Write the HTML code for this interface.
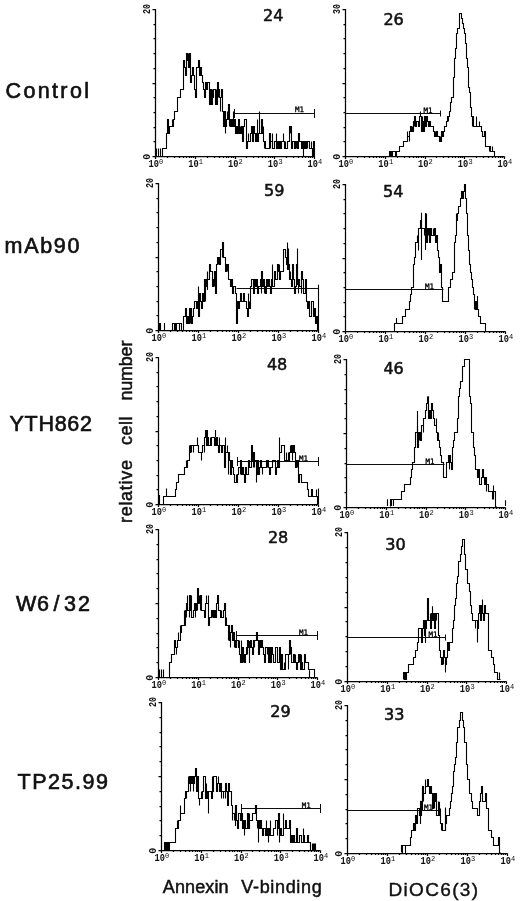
<!DOCTYPE html>
<html lang="en">
<head>
<meta charset="utf-8">
<title>Flow cytometry histograms</title>
<style>
html,body{margin:0;padding:0;background:#fff;}
body{width:520px;height:901px;overflow:hidden;}
svg{display:block;filter:blur(0.3px);}
text{font-family:"Liberation Sans","DejaVu Sans",sans-serif;fill:#111;}
.ax{fill:none;stroke:#000;stroke-width:1.25;}
.h{fill:none;stroke:#000;stroke-width:1.1;stroke-linejoin:miter;}
.m{fill:none;stroke:#000;stroke-width:0.95;}
.tk{font-family:"Liberation Mono","DejaVu Sans Mono",monospace;font-size:11px;font-weight:bold;fill:#111;}
.sup{font-family:"Liberation Mono","DejaVu Sans Mono",monospace;font-size:7px;fill:#111;}
.m1{font-family:"DejaVu Sans Mono","Liberation Mono",monospace;font-size:7.5px;fill:#000;stroke:#000;stroke-width:0.3;}
.num{font-family:"DejaVu Sans","Liberation Sans",sans-serif;font-size:15.6px;stroke:#111;stroke-width:0.55;}
.row{font-size:21.5px;stroke:#111;stroke-width:0.65;}
.ylab{font-size:18px;word-spacing:10px;stroke:#111;stroke-width:0.5;}
.xlab1{font-size:18px;word-spacing:12px;stroke:#111;stroke-width:0.5;}
.xlab2{font-size:19px;stroke:#111;stroke-width:0.4;}
</style>
</head>
<body>
<svg width="520" height="901" viewBox="0 0 520 901">
<rect width="520" height="901" fill="#fff"/>
<g id="p1">
<path class="ax" d="M152.5 9.5H155.5V156.5H314.5M152.5 156.5h3M153.5 141.5h2M153.5 127.5h2M153.5 112.5h2M153.5 97.5h2M152.5 83.5h3M153.5 68.5h2M153.5 53.5h2M153.5 38.5h2M153.5 24.5h2M152.5 9.5h3M155.5 156.5v2.5M167.5 156.5v1.5M174.5 156.5v1.5M179.5 156.5v1.5M183.5 156.5v1.5M186.5 156.5v1.5M189.5 156.5v1.5M191.5 156.5v1.5M193.5 156.5v1.5M195.5 156.5v2.5M207.5 156.5v1.5M214.5 156.5v1.5M219.5 156.5v1.5M223.5 156.5v1.5M226.5 156.5v1.5M228.5 156.5v1.5M231.5 156.5v1.5M233.5 156.5v1.5M235.5 156.5v2.5M246.5 156.5v1.5M253.5 156.5v1.5M258.5 156.5v1.5M262.5 156.5v1.5M265.5 156.5v1.5M268.5 156.5v1.5M270.5 156.5v1.5M272.5 156.5v1.5M274.5 156.5v2.5M286.5 156.5v1.5M293.5 156.5v1.5M298.5 156.5v1.5M302.5 156.5v1.5M305.5 156.5v1.5M308.5 156.5v1.5M310.5 156.5v1.5M312.5 156.5v1.5M314.5 156.5v2.5"/>
<text class="tk" x="148.5" y="167.3" textLength="10.4" lengthAdjust="spacingAndGlyphs">10</text><text class="sup" x="159.1" y="164.1">0</text>
<text class="tk" x="188.2" y="167.3" textLength="10.4" lengthAdjust="spacingAndGlyphs">10</text><text class="sup" x="198.8" y="164.1">1</text>
<text class="tk" x="228" y="167.3" textLength="10.4" lengthAdjust="spacingAndGlyphs">10</text><text class="sup" x="238.6" y="164.1">2</text>
<text class="tk" x="267.8" y="167.3" textLength="10.4" lengthAdjust="spacingAndGlyphs">10</text><text class="sup" x="278.4" y="164.1">3</text>
<text class="tk" x="307.5" y="167.3" textLength="10.4" lengthAdjust="spacingAndGlyphs">10</text><text class="sup" x="318.1" y="164.1">4</text>
<text class="tk" transform="translate(150.3 159.7) rotate(-90)" textLength="6" lengthAdjust="spacingAndGlyphs">0</text>
<text class="tk" transform="translate(150.3 14.1) rotate(-90)" textLength="10" lengthAdjust="spacingAndGlyphs">20</text>
<path class="h" d="M162.5 156.5V148.5H163.5H164.5H164.5H165.5H166.5H166.5V133.5H167.5V119.5H168.5V126.5H168.5V133.5H169.5V126.5H170.5H170.5H171.5H172.5V119.5H172.5V126.5H173.5V119.5H173.5H174.5V111.5H175.5H175.5H176.5H177.5H177.5V97.5H178.5H179.5H179.5H180.5V89.5H181.5H181.5H182.5H183.5V67.5H183.5V60.5H184.5V67.5H185.5V75.5H185.5H186.5V60.5H186.5V53.5H187.5V60.5H188.5V53.5H188.5V67.5H189.5V53.5H190.5V67.5H190.5V82.5H191.5V75.5H192.5V67.5H192.5H193.5V75.5H194.5V89.5H194.5H195.5V97.5H196.5V82.5H196.5V67.5H197.5H198.5H198.5V60.5H199.5H199.5V75.5H200.5V67.5H201.5H201.5V75.5H202.5V82.5H203.5H203.5V89.5H204.5V97.5H205.5H205.5V82.5H206.5V89.5H207.5H207.5V82.5H208.5H209.5V89.5H209.5V104.5H210.5V89.5H211.5V104.5H211.5H212.5V89.5H212.5V97.5H213.5V89.5H214.5H214.5H215.5V104.5H216.5V89.5H216.5V104.5H217.5V82.5H218.5V97.5H218.5V89.5H219.5V97.5H220.5V111.5H220.5V97.5H221.5V89.5H222.5V111.5H222.5H223.5V126.5H224.5H224.5V111.5H225.5V133.5H225.5V126.5H226.5V119.5H227.5V111.5H227.5V119.5H228.5V104.5H229.5V126.5H229.5V119.5H230.5V126.5H231.5H231.5V119.5H232.5V126.5H233.5V111.5H233.5V126.5H234.5V119.5H235.5H235.5V133.5H236.5V126.5H237.5H237.5V133.5H238.5H238.5V119.5H239.5V133.5H240.5V126.5H240.5V133.5H241.5V126.5H242.5H242.5V141.5H243.5V126.5H244.5V119.5H244.5H245.5H246.5V133.5H246.5V148.5H247.5V141.5H248.5V133.5H248.5V141.5H249.5H250.5V133.5H250.5H251.5H251.5V126.5H252.5V141.5H253.5V126.5H253.5H254.5V133.5H255.5H255.5V141.5H256.5V133.5H257.5V119.5H257.5V141.5H258.5V133.5H259.5V111.5H259.5V133.5H260.5H261.5V126.5H261.5V119.5H262.5V133.5H263.5V126.5H263.5V141.5H264.5V148.5H264.5V141.5H265.5V148.5H266.5H266.5H267.5H268.5H268.5H269.5V133.5H270.5V148.5H270.5V141.5H271.5H272.5V133.5H272.5V148.5H273.5H274.5H274.5V141.5H275.5H276.5V133.5H276.5V148.5H277.5V141.5H277.5H278.5V148.5H279.5V141.5H279.5H280.5V148.5H281.5V141.5H281.5H282.5H283.5V133.5H283.5V141.5H284.5V148.5H285.5V141.5H285.5V148.5H286.5H287.5H287.5V141.5H288.5H289.5V133.5H289.5V126.5H290.5V133.5H290.5V126.5H291.5V148.5H292.5H292.5V141.5H293.5H294.5V148.5H294.5H295.5V141.5H296.5V148.5H296.5V141.5H297.5V148.5H298.5H298.5V133.5H299.5V141.5H300.5H300.5H301.5V148.5H302.5V141.5H302.5H303.5V148.5H303.5H304.5V141.5H305.5H305.5V148.5H306.5V141.5H307.5V148.5H307.5V141.5H308.5H309.5V148.5H309.5H310.5H311.5V141.5H311.5V148.5H312.5H313.5H313.5V141.5H314.5V156.5H314.5V156.5"/>
<path class="h" d="M156.5 156V148.5M158.5 156V148.5M160.5 156V148.5M303.5 156V148.5M312.5 156V148.5M313.5 156V148.5"/>
<path class="m" d="M234.5 113.5H314.5M234.5 109v9M314.5 109v9"/>
<text class="m1" x="295" y="112.4">M1</text>
<text class="num" x="263" y="21.4" textLength="20.4" lengthAdjust="spacingAndGlyphs">24</text>
</g>
<g id="p2">
<path class="ax" d="M342.5 9.5H345.5V156.5H504.5M342.5 156.5h3M343.5 141.5h2M343.5 127.5h2M343.5 112.5h2M343.5 97.5h2M342.5 83.5h3M343.5 68.5h2M343.5 53.5h2M343.5 38.5h2M343.5 24.5h2M342.5 9.5h3M345.5 156.5v2.5M357.5 156.5v1.5M364.5 156.5v1.5M369.5 156.5v1.5M373.5 156.5v1.5M376.5 156.5v1.5M379.5 156.5v1.5M381.5 156.5v1.5M383.5 156.5v1.5M385.5 156.5v2.5M397.5 156.5v1.5M404.5 156.5v1.5M409.5 156.5v1.5M413.5 156.5v1.5M416.5 156.5v1.5M418.5 156.5v1.5M421.5 156.5v1.5M423.5 156.5v1.5M425.5 156.5v2.5M436.5 156.5v1.5M443.5 156.5v1.5M448.5 156.5v1.5M452.5 156.5v1.5M455.5 156.5v1.5M458.5 156.5v1.5M460.5 156.5v1.5M462.5 156.5v1.5M464.5 156.5v2.5M476.5 156.5v1.5M483.5 156.5v1.5M488.5 156.5v1.5M492.5 156.5v1.5M495.5 156.5v1.5M498.5 156.5v1.5M500.5 156.5v1.5M502.5 156.5v1.5M504.5 156.5v2.5"/>
<text class="tk" x="338.5" y="167.3" textLength="10.4" lengthAdjust="spacingAndGlyphs">10</text><text class="sup" x="349.1" y="164.1">0</text>
<text class="tk" x="378.2" y="167.3" textLength="10.4" lengthAdjust="spacingAndGlyphs">10</text><text class="sup" x="388.9" y="164.1">1</text>
<text class="tk" x="418" y="167.3" textLength="10.4" lengthAdjust="spacingAndGlyphs">10</text><text class="sup" x="428.6" y="164.1">2</text>
<text class="tk" x="457.8" y="167.3" textLength="10.4" lengthAdjust="spacingAndGlyphs">10</text><text class="sup" x="468.4" y="164.1">3</text>
<text class="tk" x="497.5" y="167.3" textLength="10.4" lengthAdjust="spacingAndGlyphs">10</text><text class="sup" x="508.1" y="164.1">4</text>
<text class="tk" transform="translate(340.3 159.7) rotate(-90)" textLength="6" lengthAdjust="spacingAndGlyphs">0</text>
<text class="tk" transform="translate(340.3 14.1) rotate(-90)" textLength="10" lengthAdjust="spacingAndGlyphs">30</text>
<path class="h" d="M388.5 156.5V156.5H388.5H389.5H390.5H390.5V151.5H391.5V156.5H392.5H392.5V151.5H393.5H394.5H394.5H395.5V156.5H396.5H396.5V151.5H397.5H398.5H398.5H399.5V146.5H399.5H400.5H401.5H401.5H402.5H403.5H403.5V141.5H404.5H405.5H405.5H406.5H407.5V131.5H407.5V136.5H408.5H409.5V141.5H409.5V131.5H410.5V126.5H411.5H411.5V131.5H412.5V126.5H412.5V131.5H413.5V121.5H414.5V126.5H414.5V116.5H415.5V126.5H416.5V121.5H416.5H417.5H418.5H418.5V126.5H419.5V116.5H420.5V111.5H420.5V116.5H421.5V131.5H422.5V116.5H422.5V121.5H423.5V131.5H424.5H424.5V116.5H425.5H425.5V126.5H426.5V116.5H427.5V121.5H427.5H428.5V126.5H429.5V121.5H429.5H430.5V126.5H431.5H431.5H432.5H433.5V131.5H433.5H434.5V136.5H435.5V131.5H435.5V136.5H436.5V131.5H437.5V136.5H437.5H438.5H438.5H439.5V141.5H440.5V136.5H440.5V141.5H441.5V131.5H442.5V136.5H442.5H443.5V131.5H444.5H444.5V126.5H445.5H446.5V121.5H446.5H447.5V116.5H448.5V121.5H448.5V116.5H449.5V111.5H450.5V107.5H450.5V102.5H451.5H451.5V97.5H452.5H453.5V92.5H453.5V77.5H454.5V58.5H455.5V53.5H455.5V48.5H456.5V33.5H457.5H457.5V28.5H458.5H459.5V23.5H459.5V13.5H460.5H461.5V18.5H461.5H462.5V23.5H463.5H463.5V28.5H464.5H464.5V33.5H465.5V43.5H466.5V48.5H466.5V58.5H467.5V67.5H468.5V77.5H468.5V87.5H469.5V92.5H470.5V102.5H470.5V107.5H471.5V116.5H472.5V126.5H472.5V116.5H473.5V126.5H474.5H474.5H475.5H476.5V116.5H476.5V126.5H477.5H477.5H478.5H479.5V121.5H479.5V126.5H480.5H481.5V131.5H481.5H482.5V136.5H483.5H483.5H484.5V131.5H485.5V141.5H485.5V146.5H486.5H487.5H487.5H488.5H489.5V151.5H489.5V146.5H490.5V151.5H490.5H491.5H492.5V146.5H492.5V151.5H493.5H494.5H494.5V156.5"/>
<path class="h" d="M389.5 156V151M391.5 156V151"/>
<path class="m" d="M345.5 113.5H440.5M440.5 110.5v6"/>
<text class="m1" x="423.5" y="112.6">M1</text>
<text class="num" x="383.4" y="24.6" textLength="20.4" lengthAdjust="spacingAndGlyphs">26</text>
</g>
<g id="p3">
<path class="ax" d="M155.5 183.5H158.5V330.5H318.5M155.5 330.5h3M156.5 315.5h2M156.5 301.5h2M156.5 286.5h2M156.5 271.5h2M155.5 257.5h3M156.5 242.5h2M156.5 227.5h2M156.5 212.5h2M156.5 198.5h2M155.5 183.5h3M158.5 330.5v2.5M170.5 330.5v1.5M177.5 330.5v1.5M182.5 330.5v1.5M186.5 330.5v1.5M189.5 330.5v1.5M192.5 330.5v1.5M194.5 330.5v1.5M196.5 330.5v1.5M198.5 330.5v2.5M210.5 330.5v1.5M217.5 330.5v1.5M222.5 330.5v1.5M226.5 330.5v1.5M229.5 330.5v1.5M232.5 330.5v1.5M234.5 330.5v1.5M236.5 330.5v1.5M238.5 330.5v2.5M250.5 330.5v1.5M257.5 330.5v1.5M262.5 330.5v1.5M266.5 330.5v1.5M269.5 330.5v1.5M272.5 330.5v1.5M274.5 330.5v1.5M276.5 330.5v1.5M278.5 330.5v2.5M290.5 330.5v1.5M297.5 330.5v1.5M302.5 330.5v1.5M306.5 330.5v1.5M309.5 330.5v1.5M312.5 330.5v1.5M314.5 330.5v1.5M316.5 330.5v1.5M318.5 330.5v2.5"/>
<text class="tk" x="151.5" y="341.3" textLength="10.4" lengthAdjust="spacingAndGlyphs">10</text><text class="sup" x="162.1" y="338.1">0</text>
<text class="tk" x="191.5" y="341.3" textLength="10.4" lengthAdjust="spacingAndGlyphs">10</text><text class="sup" x="202.1" y="338.1">1</text>
<text class="tk" x="231.5" y="341.3" textLength="10.4" lengthAdjust="spacingAndGlyphs">10</text><text class="sup" x="242.1" y="338.1">2</text>
<text class="tk" x="271.5" y="341.3" textLength="10.4" lengthAdjust="spacingAndGlyphs">10</text><text class="sup" x="282.1" y="338.1">3</text>
<text class="tk" x="311.5" y="341.3" textLength="10.4" lengthAdjust="spacingAndGlyphs">10</text><text class="sup" x="322.1" y="338.1">4</text>
<text class="tk" transform="translate(153.3 333.7) rotate(-90)" textLength="6" lengthAdjust="spacingAndGlyphs">0</text>
<text class="tk" transform="translate(153.3 188.1) rotate(-90)" textLength="10" lengthAdjust="spacingAndGlyphs">20</text>
<path class="h" d="M172.5 330.5V323.5H173.5H173.5H174.5H175.5H175.5H176.5H177.5H177.5H178.5H179.5H179.5H180.5H181.5H181.5V330.5H182.5H183.5V323.5H183.5V316.5H184.5H184.5H185.5V308.5H186.5V316.5H186.5V323.5H187.5V316.5H188.5V323.5H188.5H189.5V308.5H190.5V323.5H190.5V308.5H191.5V323.5H192.5V316.5H192.5H193.5V308.5H194.5H194.5V301.5H195.5H196.5V308.5H196.5H197.5H197.5V301.5H198.5V316.5H199.5V308.5H199.5V293.5H200.5V301.5H201.5V308.5H201.5H202.5V293.5H203.5H203.5V301.5H204.5V279.5H205.5V301.5H205.5V286.5H206.5V279.5H207.5V271.5H207.5V279.5H208.5H209.5V271.5H209.5V264.5H210.5H210.5V271.5H211.5H212.5V286.5H212.5H213.5V279.5H214.5V286.5H214.5V271.5H215.5V293.5H216.5V264.5H216.5H217.5V257.5H218.5V264.5H218.5V257.5H219.5V264.5H220.5H220.5V249.5H221.5H222.5V257.5H222.5V242.5H223.5H223.5V257.5H224.5H225.5V264.5H225.5V271.5H226.5V264.5H227.5V271.5H227.5V264.5H228.5V279.5H229.5H229.5H230.5V286.5H231.5H231.5V279.5H232.5V293.5H233.5H233.5V286.5H234.5H235.5H235.5V293.5H236.5H236.5V323.5H237.5V301.5H238.5H238.5V308.5H239.5V301.5H240.5H240.5V293.5H241.5V301.5H242.5H242.5H243.5V293.5H244.5V301.5H244.5H245.5H246.5H246.5V308.5H247.5V316.5H248.5V293.5H248.5V308.5H249.5V301.5H249.5V308.5H250.5V286.5H251.5V279.5H251.5H252.5H253.5V286.5H253.5V293.5H254.5V279.5H255.5H255.5V286.5H256.5V279.5H257.5V286.5H257.5V293.5H258.5V286.5H259.5H259.5H260.5V279.5H261.5V293.5H261.5V271.5H262.5V286.5H262.5H263.5V279.5H264.5V293.5H264.5V286.5H265.5V293.5H266.5V286.5H266.5V279.5H267.5V286.5H268.5H268.5V279.5H269.5V286.5H270.5H270.5V293.5H271.5V279.5H272.5V264.5H272.5V286.5H273.5H274.5H274.5V271.5H275.5V279.5H275.5H276.5H277.5V271.5H277.5V264.5H278.5V271.5H279.5V264.5H279.5V279.5H280.5V271.5H281.5H281.5H282.5H283.5V257.5H283.5V249.5H284.5H285.5V257.5H285.5H286.5V264.5H287.5V242.5H287.5V257.5H288.5H288.5V264.5H289.5V279.5H290.5V271.5H290.5V279.5H291.5V286.5H292.5V279.5H292.5V264.5H293.5V279.5H294.5V286.5H294.5V293.5H295.5V286.5H296.5V271.5H296.5V264.5H297.5V279.5H298.5V293.5H298.5V279.5H299.5V286.5H300.5H300.5H301.5V293.5H301.5V271.5H302.5V279.5H303.5H303.5V293.5H304.5H305.5V279.5H305.5H306.5V301.5H307.5V308.5H307.5H308.5V301.5H309.5V308.5H309.5V316.5H310.5H311.5V301.5H311.5H312.5H313.5H313.5V316.5H314.5V308.5H314.5H315.5V323.5H316.5H316.5V316.5H317.5H317.5V330.5"/>
<path class="h" d="M159.5 331V323M160.5 331V323M164.5 331V323M174.5 331V323M175.5 331V323M176.5 331V323M179.5 331V323M198.5 302V286.5M207.5 290V272M287.5 270V248.6M288.5 270V248.6M297.5 285V248.6"/>
<path class="h" d="M318.5 284.6V330.8"/>
<path class="m" d="M236.5 288.5H318.5"/>
<text class="num" x="264" y="195.9" textLength="20.4" lengthAdjust="spacingAndGlyphs">59</text>
</g>
<g id="p4">
<path class="ax" d="M342.5 184.5H345.5V331.5H505.5M342.5 331.5h3M343.5 316.5h2M343.5 302.5h2M343.5 287.5h2M343.5 272.5h2M342.5 258.5h3M343.5 243.5h2M343.5 228.5h2M343.5 213.5h2M343.5 199.5h2M342.5 184.5h3M345.5 331.5v2.5M357.5 331.5v1.5M364.5 331.5v1.5M369.5 331.5v1.5M373.5 331.5v1.5M376.5 331.5v1.5M379.5 331.5v1.5M381.5 331.5v1.5M383.5 331.5v1.5M385.5 331.5v2.5M397.5 331.5v1.5M404.5 331.5v1.5M409.5 331.5v1.5M413.5 331.5v1.5M416.5 331.5v1.5M419.5 331.5v1.5M421.5 331.5v1.5M423.5 331.5v1.5M425.5 331.5v2.5M437.5 331.5v1.5M444.5 331.5v1.5M449.5 331.5v1.5M453.5 331.5v1.5M456.5 331.5v1.5M459.5 331.5v1.5M461.5 331.5v1.5M463.5 331.5v1.5M465.5 331.5v2.5M477.5 331.5v1.5M484.5 331.5v1.5M489.5 331.5v1.5M493.5 331.5v1.5M496.5 331.5v1.5M499.5 331.5v1.5M501.5 331.5v1.5M503.5 331.5v1.5M505.5 331.5v2.5"/>
<text class="tk" x="338.5" y="342.3" textLength="10.4" lengthAdjust="spacingAndGlyphs">10</text><text class="sup" x="349.1" y="339.1">0</text>
<text class="tk" x="378.5" y="342.3" textLength="10.4" lengthAdjust="spacingAndGlyphs">10</text><text class="sup" x="389.1" y="339.1">1</text>
<text class="tk" x="418.5" y="342.3" textLength="10.4" lengthAdjust="spacingAndGlyphs">10</text><text class="sup" x="429.1" y="339.1">2</text>
<text class="tk" x="458.5" y="342.3" textLength="10.4" lengthAdjust="spacingAndGlyphs">10</text><text class="sup" x="469.1" y="339.1">3</text>
<text class="tk" x="498.5" y="342.3" textLength="10.4" lengthAdjust="spacingAndGlyphs">10</text><text class="sup" x="509.1" y="339.1">4</text>
<text class="tk" transform="translate(340.3 334.7) rotate(-90)" textLength="6" lengthAdjust="spacingAndGlyphs">0</text>
<text class="tk" transform="translate(340.3 189.1) rotate(-90)" textLength="10" lengthAdjust="spacingAndGlyphs">20</text>
<path class="h" d="M394.5 331.5V323.5H394.5H395.5H396.5H396.5H397.5H398.5H398.5H399.5H400.5H400.5H401.5H402.5H402.5V316.5H403.5H404.5H404.5H405.5V309.5H405.5H406.5H407.5H407.5H408.5H409.5V301.5H409.5H410.5V294.5H411.5H411.5V287.5H412.5H413.5V272.5H413.5V264.5H414.5V257.5H415.5V242.5H415.5H416.5H417.5V235.5H417.5V242.5H418.5V250.5H418.5V228.5H419.5H420.5V220.5H420.5H421.5V228.5H422.5H422.5H423.5H424.5V235.5H424.5V228.5H425.5V235.5H426.5V213.5H426.5V242.5H427.5V228.5H428.5V235.5H428.5V228.5H429.5V242.5H430.5V228.5H430.5H431.5V235.5H431.5H432.5H433.5V228.5H433.5V235.5H434.5V228.5H435.5V235.5H435.5V242.5H436.5V235.5H437.5V242.5H437.5V250.5H438.5V257.5H439.5V272.5H439.5H440.5V264.5H441.5V279.5H441.5V287.5H442.5V301.5H443.5H443.5H444.5H444.5H445.5H446.5H446.5H447.5H448.5V294.5H448.5V287.5H449.5H450.5V279.5H450.5H451.5H452.5H452.5V272.5H453.5H454.5V257.5H454.5V242.5H455.5V235.5H456.5V213.5H456.5V220.5H457.5V213.5H457.5H458.5V206.5H459.5H459.5H460.5V198.5H461.5H461.5V191.5H462.5V198.5H463.5H463.5V191.5H464.5V184.5H465.5V191.5H465.5V198.5H466.5V213.5H467.5V228.5H467.5V235.5H468.5V250.5H469.5V257.5H469.5V264.5H470.5V272.5H470.5H471.5V279.5H472.5H472.5V287.5H473.5V294.5H474.5V309.5H474.5V301.5H475.5V309.5H476.5V301.5H476.5H477.5V309.5H478.5V316.5H478.5H479.5H480.5V323.5H480.5H481.5H482.5H482.5H483.5H483.5H484.5H485.5H485.5V331.5H486.5V331.5"/>
<path class="h" d="M396.5 324V318M421.5 260V212.7M425.5 250V213M477.5 310V296"/>
<path class="m" d="M345.5 289.5H443.5"/>
<text class="m1" x="425" y="288.8">M1</text>
<text class="num" x="383" y="197.2" textLength="20.4" lengthAdjust="spacingAndGlyphs">54</text>
</g>
<g id="p5">
<path class="ax" d="M155.5 357.5H158.5V504.5H318.5M155.5 504.5h3M156.5 489.5h2M156.5 475.5h2M156.5 460.5h2M156.5 445.5h2M155.5 431.5h3M156.5 416.5h2M156.5 401.5h2M156.5 386.5h2M156.5 372.5h2M155.5 357.5h3M158.5 504.5v2.5M170.5 504.5v1.5M177.5 504.5v1.5M182.5 504.5v1.5M186.5 504.5v1.5M189.5 504.5v1.5M192.5 504.5v1.5M194.5 504.5v1.5M196.5 504.5v1.5M198.5 504.5v2.5M210.5 504.5v1.5M217.5 504.5v1.5M222.5 504.5v1.5M226.5 504.5v1.5M229.5 504.5v1.5M232.5 504.5v1.5M234.5 504.5v1.5M236.5 504.5v1.5M238.5 504.5v2.5M250.5 504.5v1.5M257.5 504.5v1.5M262.5 504.5v1.5M266.5 504.5v1.5M269.5 504.5v1.5M272.5 504.5v1.5M274.5 504.5v1.5M276.5 504.5v1.5M278.5 504.5v2.5M290.5 504.5v1.5M297.5 504.5v1.5M302.5 504.5v1.5M306.5 504.5v1.5M309.5 504.5v1.5M312.5 504.5v1.5M314.5 504.5v1.5M316.5 504.5v1.5M318.5 504.5v2.5"/>
<text class="tk" x="151.5" y="515.3" textLength="10.4" lengthAdjust="spacingAndGlyphs">10</text><text class="sup" x="162.1" y="512.1">0</text>
<text class="tk" x="191.5" y="515.3" textLength="10.4" lengthAdjust="spacingAndGlyphs">10</text><text class="sup" x="202.1" y="512.1">1</text>
<text class="tk" x="231.5" y="515.3" textLength="10.4" lengthAdjust="spacingAndGlyphs">10</text><text class="sup" x="242.1" y="512.1">2</text>
<text class="tk" x="271.5" y="515.3" textLength="10.4" lengthAdjust="spacingAndGlyphs">10</text><text class="sup" x="282.1" y="512.1">3</text>
<text class="tk" x="311.5" y="515.3" textLength="10.4" lengthAdjust="spacingAndGlyphs">10</text><text class="sup" x="322.1" y="512.1">4</text>
<text class="tk" transform="translate(153.3 507.7) rotate(-90)" textLength="6" lengthAdjust="spacingAndGlyphs">0</text>
<text class="tk" transform="translate(153.3 362.1) rotate(-90)" textLength="10" lengthAdjust="spacingAndGlyphs">20</text>
<path class="h" d="M163.5 504.5V496.5H163.5H164.5H165.5H165.5H166.5H167.5H167.5H168.5H169.5H169.5H170.5H171.5H171.5H172.5H173.5H173.5H174.5H175.5H175.5V489.5H176.5V482.5H176.5H177.5H178.5H178.5V474.5H179.5H180.5H180.5H181.5H182.5H182.5H183.5H184.5H184.5V467.5H185.5H186.5V460.5H186.5V467.5H187.5V460.5H188.5H188.5H189.5V445.5H189.5V452.5H190.5V445.5H191.5V452.5H191.5V445.5H192.5H193.5V452.5H193.5V445.5H194.5H195.5H195.5H196.5H197.5V437.5H197.5V445.5H198.5V452.5H199.5H199.5H200.5H201.5V460.5H201.5V452.5H202.5H202.5V445.5H203.5H204.5V452.5H204.5V437.5H205.5V430.5H206.5V437.5H206.5V445.5H207.5V437.5H208.5V445.5H208.5H209.5H210.5V437.5H210.5V445.5H211.5V437.5H212.5H212.5H213.5H214.5V445.5H214.5H215.5V437.5H215.5V445.5H216.5V437.5H217.5V445.5H217.5H218.5V452.5H219.5V437.5H219.5V445.5H220.5H221.5V452.5H221.5H222.5V445.5H223.5H223.5H224.5V467.5H225.5V437.5H225.5V452.5H226.5H227.5V445.5H227.5V452.5H228.5V474.5H228.5V452.5H229.5V460.5H230.5H230.5V474.5H231.5V460.5H232.5V467.5H232.5H233.5V474.5H234.5H234.5V482.5H235.5H236.5V474.5H236.5V482.5H237.5V474.5H238.5V467.5H238.5H239.5H240.5V474.5H240.5V460.5H241.5V474.5H241.5H242.5V467.5H243.5V474.5H243.5H244.5V482.5H245.5V474.5H245.5V467.5H246.5V474.5H247.5H247.5H248.5V460.5H249.5V467.5H249.5H250.5H251.5V452.5H251.5V445.5H252.5V460.5H253.5V467.5H253.5V452.5H254.5V467.5H254.5V460.5H255.5H256.5V482.5H256.5V474.5H257.5V460.5H258.5H258.5V474.5H259.5V467.5H260.5H260.5V460.5H261.5V467.5H262.5V474.5H262.5V467.5H263.5H264.5H264.5H265.5H266.5H266.5V460.5H267.5V467.5H267.5V460.5H268.5V467.5H269.5H269.5V474.5H270.5V467.5H271.5H271.5H272.5V460.5H273.5H273.5H274.5H275.5H275.5V474.5H276.5V467.5H277.5V460.5H277.5H278.5V467.5H279.5V437.5H279.5V452.5H280.5H280.5H281.5V445.5H282.5H282.5H283.5H284.5V452.5H284.5V460.5H285.5H286.5V452.5H286.5V460.5H287.5H288.5V452.5H288.5V460.5H289.5V452.5H290.5V445.5H290.5V452.5H291.5V445.5H292.5V460.5H292.5V452.5H293.5V445.5H293.5H294.5V452.5H295.5V460.5H295.5V467.5H296.5V460.5H297.5V467.5H297.5V460.5H298.5V482.5H299.5H299.5V474.5H300.5H301.5H301.5V482.5H302.5H303.5H303.5H304.5H305.5H305.5H306.5H306.5H307.5V489.5H308.5H308.5V496.5H309.5H310.5H310.5H311.5V489.5H312.5V496.5H312.5H313.5H314.5H314.5H315.5H316.5V489.5H316.5V496.5H317.5H317.5V504.5"/>
<path class="h" d="M159.5 504V495M166.5 496V488.5M207.5 437V430M215.5 437V430"/>
<path class="h" d="M318.5 488.5V504.1"/>
<path class="m" d="M237.5 461.5H318.5M237.5 457v9M318.5 457v9"/>
<text class="m1" x="299" y="460.8">M1</text>
<text class="num" x="266.9" y="370.4" textLength="20.4" lengthAdjust="spacingAndGlyphs">48</text>
</g>
<g id="p6">
<path class="ax" d="M343.5 359.5H346.5V507.5H505.5M343.5 507.5h3M344.5 492.5h2M344.5 477.5h2M344.5 463.5h2M344.5 448.5h2M343.5 433.5h3M344.5 418.5h2M344.5 403.5h2M344.5 389.5h2M344.5 374.5h2M343.5 359.5h3M346.5 507.5v2.5M358.5 507.5v1.5M365.5 507.5v1.5M370.5 507.5v1.5M374.5 507.5v1.5M377.5 507.5v1.5M380.5 507.5v1.5M382.5 507.5v1.5M384.5 507.5v1.5M386.5 507.5v2.5M398.5 507.5v1.5M405.5 507.5v1.5M410.5 507.5v1.5M414.5 507.5v1.5M417.5 507.5v1.5M419.5 507.5v1.5M422.5 507.5v1.5M424.5 507.5v1.5M426.5 507.5v2.5M437.5 507.5v1.5M444.5 507.5v1.5M449.5 507.5v1.5M453.5 507.5v1.5M456.5 507.5v1.5M459.5 507.5v1.5M461.5 507.5v1.5M463.5 507.5v1.5M465.5 507.5v2.5M477.5 507.5v1.5M484.5 507.5v1.5M489.5 507.5v1.5M493.5 507.5v1.5M496.5 507.5v1.5M499.5 507.5v1.5M501.5 507.5v1.5M503.5 507.5v1.5M505.5 507.5v2.5"/>
<text class="tk" x="339.5" y="518.3" textLength="10.4" lengthAdjust="spacingAndGlyphs">10</text><text class="sup" x="350.1" y="515.1">0</text>
<text class="tk" x="379.2" y="518.3" textLength="10.4" lengthAdjust="spacingAndGlyphs">10</text><text class="sup" x="389.9" y="515.1">1</text>
<text class="tk" x="419" y="518.3" textLength="10.4" lengthAdjust="spacingAndGlyphs">10</text><text class="sup" x="429.6" y="515.1">2</text>
<text class="tk" x="458.8" y="518.3" textLength="10.4" lengthAdjust="spacingAndGlyphs">10</text><text class="sup" x="469.4" y="515.1">3</text>
<text class="tk" x="498.5" y="518.3" textLength="10.4" lengthAdjust="spacingAndGlyphs">10</text><text class="sup" x="509.1" y="515.1">4</text>
<text class="tk" transform="translate(341.3 510.7) rotate(-90)" textLength="6" lengthAdjust="spacingAndGlyphs">0</text>
<text class="tk" transform="translate(341.3 364.1) rotate(-90)" textLength="10" lengthAdjust="spacingAndGlyphs">20</text>
<path class="h" d="M390.5 506.5V499.5H390.5H391.5H391.5H392.5H393.5H393.5H394.5H395.5H395.5H396.5H397.5H397.5H398.5H399.5H399.5H400.5H401.5H401.5V491.5H402.5H402.5H403.5H404.5V484.5H404.5H405.5H406.5H406.5H407.5H408.5H408.5H409.5H410.5H410.5V477.5H411.5V469.5H412.5V462.5H412.5H413.5H414.5V447.5H414.5H415.5V432.5H415.5H416.5H417.5V425.5H417.5V447.5H418.5V432.5H419.5V440.5H419.5V432.5H420.5V440.5H421.5V432.5H421.5V425.5H422.5H423.5V432.5H423.5V418.5H424.5H425.5V410.5H425.5H426.5V403.5H427.5V396.5H427.5V403.5H428.5V410.5H428.5V418.5H429.5V410.5H430.5H430.5V418.5H431.5V403.5H432.5V410.5H432.5H433.5V418.5H434.5H434.5V425.5H435.5H436.5V418.5H436.5V432.5H437.5V440.5H438.5V432.5H438.5V440.5H439.5V447.5H440.5H440.5V455.5H441.5H441.5V462.5H442.5H443.5V477.5H443.5H444.5H445.5H445.5H446.5V462.5H447.5H447.5H448.5V455.5H449.5V469.5H449.5V455.5H450.5V462.5H451.5V469.5H451.5H452.5V447.5H453.5V440.5H453.5H454.5H454.5V432.5H455.5H456.5H456.5H457.5V418.5H458.5H458.5V396.5H459.5V388.5H460.5H460.5V381.5H461.5H462.5V374.5H462.5V366.5H463.5H464.5V359.5H464.5H465.5H466.5H466.5H467.5H467.5H468.5H469.5V388.5H469.5V396.5H470.5V403.5H471.5V432.5H471.5H472.5H473.5V440.5H473.5V447.5H474.5V455.5H475.5V469.5H475.5H476.5H477.5V477.5H477.5H478.5V469.5H479.5V484.5H479.5H480.5H480.5H481.5V477.5H482.5H482.5V469.5H483.5V477.5H484.5V484.5H484.5H485.5V477.5H486.5V491.5H486.5V484.5H487.5H488.5V491.5H488.5H489.5H490.5H490.5H491.5H492.5V499.5H492.5V491.5H493.5V499.5H493.5V491.5H494.5H495.5V499.5H495.5V506.5H496.5H496.5V506.5"/>
<path class="h" d="M387.5 506V499.2M391.5 506V499.2M393.5 506V499.2M417.5 440V410.9M428.5 410V396.3M493.5 495V485.6M505.5 506V500.2"/>
<path class="m" d="M346.5 464.5H444.5"/>
<text class="m1" x="425.5" y="463.8">M1</text>
<text class="num" x="383.4" y="374.2" textLength="20.4" lengthAdjust="spacingAndGlyphs">46</text>
</g>
<g id="p7">
<path class="ax" d="M155.5 529.5H158.5V677.5H317.5M155.5 677.5h3M156.5 662.5h2M156.5 647.5h2M156.5 633.5h2M156.5 618.5h2M155.5 603.5h3M156.5 588.5h2M156.5 573.5h2M156.5 559.5h2M156.5 544.5h2M155.5 529.5h3M158.5 677.5v2.5M170.5 677.5v1.5M177.5 677.5v1.5M182.5 677.5v1.5M186.5 677.5v1.5M189.5 677.5v1.5M192.5 677.5v1.5M194.5 677.5v1.5M196.5 677.5v1.5M198.5 677.5v2.5M210.5 677.5v1.5M217.5 677.5v1.5M222.5 677.5v1.5M226.5 677.5v1.5M229.5 677.5v1.5M231.5 677.5v1.5M234.5 677.5v1.5M236.5 677.5v1.5M238.5 677.5v2.5M249.5 677.5v1.5M256.5 677.5v1.5M261.5 677.5v1.5M265.5 677.5v1.5M268.5 677.5v1.5M271.5 677.5v1.5M273.5 677.5v1.5M275.5 677.5v1.5M277.5 677.5v2.5M289.5 677.5v1.5M296.5 677.5v1.5M301.5 677.5v1.5M305.5 677.5v1.5M308.5 677.5v1.5M311.5 677.5v1.5M313.5 677.5v1.5M315.5 677.5v1.5M317.5 677.5v2.5"/>
<text class="tk" x="151.5" y="688.3" textLength="10.4" lengthAdjust="spacingAndGlyphs">10</text><text class="sup" x="162.1" y="685.1">0</text>
<text class="tk" x="191.2" y="688.3" textLength="10.4" lengthAdjust="spacingAndGlyphs">10</text><text class="sup" x="201.8" y="685.1">1</text>
<text class="tk" x="231" y="688.3" textLength="10.4" lengthAdjust="spacingAndGlyphs">10</text><text class="sup" x="241.6" y="685.1">2</text>
<text class="tk" x="270.8" y="688.3" textLength="10.4" lengthAdjust="spacingAndGlyphs">10</text><text class="sup" x="281.4" y="685.1">3</text>
<text class="tk" x="310.5" y="688.3" textLength="10.4" lengthAdjust="spacingAndGlyphs">10</text><text class="sup" x="321.1" y="685.1">4</text>
<text class="tk" transform="translate(153.3 680.7) rotate(-90)" textLength="6" lengthAdjust="spacingAndGlyphs">0</text>
<text class="tk" transform="translate(153.3 534.1) rotate(-90)" textLength="10" lengthAdjust="spacingAndGlyphs">20</text>
<path class="h" d="M169.5 677.5V669.5H169.5V662.5H170.5H171.5H171.5V654.5H172.5H173.5H173.5H174.5H174.5V640.5H175.5V647.5H176.5V654.5H176.5V647.5H177.5V640.5H178.5V632.5H178.5V640.5H179.5H180.5V625.5H180.5V632.5H181.5V625.5H182.5H182.5H183.5H184.5V610.5H184.5V625.5H185.5V610.5H186.5V617.5H186.5V603.5H187.5V595.5H187.5V610.5H188.5H189.5V617.5H189.5V595.5H190.5V610.5H191.5V595.5H191.5V617.5H192.5H193.5V610.5H193.5H194.5V603.5H195.5V617.5H195.5V610.5H196.5V603.5H197.5V610.5H197.5V588.5H198.5V603.5H199.5V595.5H199.5V603.5H200.5V610.5H200.5V595.5H201.5V610.5H202.5H202.5H203.5H204.5V617.5H204.5H205.5V603.5H206.5V595.5H206.5V603.5H207.5H208.5V595.5H208.5V625.5H209.5V617.5H210.5H210.5H211.5V610.5H212.5V617.5H212.5V610.5H213.5H213.5V617.5H214.5V610.5H215.5H215.5V617.5H216.5V603.5H217.5H217.5V595.5H218.5V610.5H219.5H219.5H220.5V617.5H221.5V610.5H221.5V617.5H222.5H223.5V610.5H223.5H224.5V603.5H225.5V617.5H225.5V625.5H226.5V617.5H226.5V625.5H227.5H228.5V640.5H228.5V625.5H229.5V640.5H230.5V647.5H230.5V632.5H231.5V625.5H232.5V640.5H232.5H233.5V632.5H234.5V647.5H234.5V640.5H235.5V647.5H236.5V640.5H236.5H237.5H238.5H238.5V647.5H239.5V640.5H239.5V654.5H240.5V662.5H241.5V640.5H241.5V662.5H242.5V647.5H243.5V662.5H243.5V654.5H244.5V662.5H245.5V654.5H245.5H246.5V647.5H247.5V654.5H247.5V640.5H248.5V647.5H249.5V654.5H249.5V647.5H250.5V640.5H251.5H251.5V647.5H252.5H252.5V654.5H253.5V640.5H254.5V647.5H254.5V640.5H255.5H256.5H256.5V632.5H257.5V640.5H258.5V647.5H258.5V654.5H259.5V640.5H260.5H260.5V647.5H261.5V640.5H262.5V647.5H262.5H263.5V654.5H264.5H264.5V662.5H265.5H265.5V647.5H266.5H267.5V654.5H267.5V647.5H268.5V662.5H269.5V654.5H269.5V647.5H270.5V662.5H271.5V654.5H271.5V647.5H272.5V654.5H273.5H273.5V662.5H274.5H275.5V647.5H275.5H276.5H277.5V654.5H277.5V662.5H278.5H278.5H279.5V647.5H280.5V662.5H280.5V669.5H281.5V654.5H282.5H282.5V669.5H283.5H284.5V662.5H284.5V669.5H285.5V654.5H286.5H286.5H287.5H288.5V669.5H288.5V654.5H289.5V640.5H290.5V654.5H290.5V647.5H291.5V662.5H291.5H292.5H293.5H293.5V654.5H294.5V662.5H295.5V654.5H295.5V662.5H296.5V669.5H297.5V662.5H297.5H298.5V654.5H299.5V662.5H299.5V654.5H300.5V669.5H301.5V654.5H301.5V662.5H302.5V669.5H303.5H303.5H304.5H304.5V654.5H305.5V662.5H306.5H306.5H307.5H308.5V669.5H308.5H309.5H310.5H310.5H311.5H312.5H312.5H313.5H314.5V677.5H314.5V677.5"/>
<path class="h" d="M159.5 677V669.4M161.5 677V669.4M163.5 677V669.4M249.5 663V641M309.5 677V670.3"/>
<path class="m" d="M236.5 635.5H317.5M236.5 631v9M317.5 631v9"/>
<text class="m1" x="299" y="634.8">M1</text>
<text class="num" x="267.9" y="542.7" textLength="20.4" lengthAdjust="spacingAndGlyphs">28</text>
</g>
<g id="p8">
<path class="ax" d="M344.5 532.5H347.5V681.5H506.5M344.5 681.5h3M345.5 666.5h2M345.5 651.5h2M345.5 636.5h2M345.5 621.5h2M344.5 607.5h3M345.5 592.5h2M345.5 577.5h2M345.5 562.5h2M345.5 547.5h2M344.5 532.5h3M347.5 681.5v2.5M359.5 681.5v1.5M366.5 681.5v1.5M371.5 681.5v1.5M375.5 681.5v1.5M378.5 681.5v1.5M381.5 681.5v1.5M383.5 681.5v1.5M385.5 681.5v1.5M387.5 681.5v2.5M399.5 681.5v1.5M406.5 681.5v1.5M411.5 681.5v1.5M415.5 681.5v1.5M418.5 681.5v1.5M420.5 681.5v1.5M423.5 681.5v1.5M425.5 681.5v1.5M427.5 681.5v2.5M438.5 681.5v1.5M445.5 681.5v1.5M450.5 681.5v1.5M454.5 681.5v1.5M457.5 681.5v1.5M460.5 681.5v1.5M462.5 681.5v1.5M464.5 681.5v1.5M466.5 681.5v2.5M478.5 681.5v1.5M485.5 681.5v1.5M490.5 681.5v1.5M494.5 681.5v1.5M497.5 681.5v1.5M500.5 681.5v1.5M502.5 681.5v1.5M504.5 681.5v1.5M506.5 681.5v2.5"/>
<text class="tk" x="340.5" y="692.3" textLength="10.4" lengthAdjust="spacingAndGlyphs">10</text><text class="sup" x="351.1" y="689.1">0</text>
<text class="tk" x="380.2" y="692.3" textLength="10.4" lengthAdjust="spacingAndGlyphs">10</text><text class="sup" x="390.9" y="689.1">1</text>
<text class="tk" x="420" y="692.3" textLength="10.4" lengthAdjust="spacingAndGlyphs">10</text><text class="sup" x="430.6" y="689.1">2</text>
<text class="tk" x="459.8" y="692.3" textLength="10.4" lengthAdjust="spacingAndGlyphs">10</text><text class="sup" x="470.4" y="689.1">3</text>
<text class="tk" x="499.5" y="692.3" textLength="10.4" lengthAdjust="spacingAndGlyphs">10</text><text class="sup" x="510.1" y="689.1">4</text>
<text class="tk" transform="translate(342.3 684.7) rotate(-90)" textLength="6" lengthAdjust="spacingAndGlyphs">0</text>
<text class="tk" transform="translate(342.3 537.1) rotate(-90)" textLength="10" lengthAdjust="spacingAndGlyphs">20</text>
<path class="h" d="M403.5 679.5V672.5H404.5H404.5H405.5H406.5H406.5H407.5H408.5V664.5H408.5H409.5H410.5H410.5H411.5H412.5H412.5H413.5H413.5V657.5H414.5H415.5V650.5H415.5H416.5H417.5V642.5H417.5H418.5V628.5H419.5H419.5H420.5H421.5V635.5H421.5V642.5H422.5V628.5H423.5V620.5H423.5H424.5V635.5H425.5V620.5H425.5V628.5H426.5H426.5V620.5H427.5V598.5H428.5V620.5H428.5H429.5H430.5V613.5H430.5V628.5H431.5V613.5H432.5V620.5H432.5H433.5V613.5H434.5H434.5V628.5H435.5V613.5H436.5V620.5H436.5V613.5H437.5H438.5V628.5H438.5V635.5H439.5V650.5H439.5H440.5V657.5H441.5H441.5V664.5H442.5V657.5H443.5V664.5H443.5V650.5H444.5V657.5H445.5V672.5H445.5V664.5H446.5V657.5H447.5V650.5H447.5V642.5H448.5V650.5H449.5H449.5V642.5H450.5H451.5H451.5H452.5V635.5H452.5V628.5H453.5V620.5H454.5V613.5H454.5V605.5H455.5V598.5H456.5V591.5H456.5V583.5H457.5V576.5H458.5V569.5H458.5V561.5H459.5H460.5V554.5H460.5H461.5V546.5H462.5V539.5H462.5H463.5H464.5V546.5H464.5V554.5H465.5V561.5H465.5V569.5H466.5H467.5V576.5H467.5V583.5H468.5H469.5V591.5H469.5H470.5V605.5H471.5H471.5V613.5H472.5V620.5H473.5H473.5H474.5H475.5V628.5H475.5V620.5H476.5H477.5V642.5H477.5V628.5H478.5V620.5H478.5V613.5H479.5V605.5H480.5V613.5H480.5V620.5H481.5V605.5H482.5V613.5H482.5H483.5V620.5H484.5V605.5H484.5H485.5V613.5H486.5H486.5H487.5H488.5V642.5H488.5V650.5H489.5H490.5H490.5H491.5H491.5V657.5H492.5H493.5V664.5H493.5H494.5V672.5H495.5H495.5H496.5H497.5H497.5V679.5H498.5H499.5V672.5H499.5V679.5H500.5V679.5"/>
<path class="h" d="M404.5 680V672.3M405.5 680V672.3M406.5 680V672.3M425.5 643V620M432.5 620V606.3M482.5 614V599.5"/>
<path class="m" d="M347.5 637.5H445.5M445.5 634.5v6"/>
<text class="m1" x="428.5" y="637.3">M1</text>
<text class="num" x="385.3" y="549.7" textLength="20.4" lengthAdjust="spacingAndGlyphs">30</text>
</g>
<g id="p9">
<path class="ax" d="M158.5 702.5H161.5V850.5H320.5M158.5 850.5h3M159.5 835.5h2M159.5 820.5h2M159.5 806.5h2M159.5 791.5h2M158.5 776.5h3M159.5 761.5h2M159.5 746.5h2M159.5 732.5h2M159.5 717.5h2M158.5 702.5h3M161.5 850.5v2.5M173.5 850.5v1.5M180.5 850.5v1.5M185.5 850.5v1.5M189.5 850.5v1.5M192.5 850.5v1.5M195.5 850.5v1.5M197.5 850.5v1.5M199.5 850.5v1.5M201.5 850.5v2.5M213.5 850.5v1.5M220.5 850.5v1.5M225.5 850.5v1.5M229.5 850.5v1.5M232.5 850.5v1.5M234.5 850.5v1.5M237.5 850.5v1.5M239.5 850.5v1.5M241.5 850.5v2.5M252.5 850.5v1.5M259.5 850.5v1.5M264.5 850.5v1.5M268.5 850.5v1.5M271.5 850.5v1.5M274.5 850.5v1.5M276.5 850.5v1.5M278.5 850.5v1.5M280.5 850.5v2.5M292.5 850.5v1.5M299.5 850.5v1.5M304.5 850.5v1.5M308.5 850.5v1.5M311.5 850.5v1.5M314.5 850.5v1.5M316.5 850.5v1.5M318.5 850.5v1.5M320.5 850.5v2.5"/>
<text class="tk" x="154.5" y="861.3" textLength="10.4" lengthAdjust="spacingAndGlyphs">10</text><text class="sup" x="165.1" y="858.1">0</text>
<text class="tk" x="194.2" y="861.3" textLength="10.4" lengthAdjust="spacingAndGlyphs">10</text><text class="sup" x="204.8" y="858.1">1</text>
<text class="tk" x="234" y="861.3" textLength="10.4" lengthAdjust="spacingAndGlyphs">10</text><text class="sup" x="244.6" y="858.1">2</text>
<text class="tk" x="273.8" y="861.3" textLength="10.4" lengthAdjust="spacingAndGlyphs">10</text><text class="sup" x="284.4" y="858.1">3</text>
<text class="tk" x="313.5" y="861.3" textLength="10.4" lengthAdjust="spacingAndGlyphs">10</text><text class="sup" x="324.1" y="858.1">4</text>
<text class="tk" transform="translate(156.3 853.7) rotate(-90)" textLength="6" lengthAdjust="spacingAndGlyphs">0</text>
<text class="tk" transform="translate(156.3 707.1) rotate(-90)" textLength="10" lengthAdjust="spacingAndGlyphs">20</text>
<path class="h" d="M164.5 850.5V842.5H164.5H165.5H166.5H166.5H167.5H167.5H168.5H169.5H169.5H170.5H171.5H171.5H172.5H173.5H173.5H174.5H175.5V835.5H175.5V828.5H176.5H177.5V820.5H177.5V828.5H178.5V820.5H179.5H179.5H180.5V805.5H180.5V813.5H181.5H182.5H182.5H183.5H184.5V805.5H184.5V798.5H185.5V791.5H186.5V798.5H186.5V791.5H187.5H188.5V776.5H188.5V783.5H189.5V776.5H190.5V791.5H190.5V776.5H191.5V783.5H192.5H192.5V776.5H193.5V791.5H193.5V783.5H194.5V776.5H195.5H195.5V768.5H196.5V791.5H197.5H197.5V776.5H198.5V798.5H199.5V805.5H199.5V798.5H200.5H201.5V791.5H201.5V798.5H202.5V791.5H203.5V783.5H203.5V776.5H204.5H205.5V783.5H205.5V798.5H206.5V783.5H206.5V791.5H207.5V798.5H208.5V813.5H208.5V791.5H209.5H210.5H210.5H211.5V798.5H212.5V776.5H212.5V791.5H213.5V776.5H214.5H214.5H215.5H216.5V783.5H216.5V791.5H217.5V783.5H218.5V776.5H218.5V783.5H219.5V791.5H219.5H220.5V783.5H221.5V798.5H221.5V791.5H222.5H223.5V798.5H223.5V791.5H224.5H225.5V798.5H225.5V783.5H226.5V791.5H227.5V805.5H227.5H228.5V783.5H229.5H229.5V791.5H230.5H231.5V798.5H231.5V805.5H232.5V820.5H232.5V813.5H233.5H234.5V820.5H234.5V813.5H235.5V805.5H236.5V820.5H236.5H237.5V828.5H238.5V820.5H238.5V813.5H239.5H240.5V820.5H240.5H241.5V813.5H242.5V828.5H242.5H243.5V820.5H244.5V835.5H244.5V820.5H245.5V828.5H245.5H246.5H247.5H247.5V813.5H248.5V828.5H249.5V813.5H249.5V820.5H250.5H251.5H251.5H252.5V813.5H253.5H253.5H254.5H255.5H255.5V805.5H256.5V820.5H257.5V828.5H257.5V820.5H258.5V842.5H258.5V820.5H259.5V828.5H260.5V820.5H260.5H261.5V828.5H262.5V835.5H262.5H263.5V828.5H264.5H264.5H265.5V835.5H266.5V820.5H266.5V835.5H267.5V828.5H268.5V842.5H268.5V828.5H269.5V835.5H270.5V820.5H270.5V835.5H271.5H271.5H272.5H273.5V828.5H273.5H274.5H275.5V820.5H275.5H276.5H277.5V835.5H277.5V828.5H278.5V813.5H279.5V842.5H279.5V835.5H280.5V828.5H281.5V835.5H281.5H282.5H283.5V813.5H283.5V828.5H284.5H284.5H285.5V820.5H286.5V828.5H286.5H287.5H288.5H288.5H289.5V820.5H290.5H290.5V842.5H291.5V835.5H292.5H292.5V842.5H293.5V835.5H294.5V842.5H294.5H295.5H296.5V835.5H296.5V828.5H297.5V835.5H297.5V842.5H298.5H299.5H299.5V835.5H300.5H301.5V842.5H301.5H302.5H303.5V828.5H303.5V835.5H304.5V842.5H305.5H305.5H306.5H307.5H307.5V835.5H308.5V842.5H309.5H309.5H310.5V850.5H310.5H311.5V850.5"/>
<path class="h" d="M165.5 850V842.4M166.5 850V842.4M167.5 850V842.4M168.5 850V842.4M169.5 850V842.4M235.5 826V805.5M312.5 850V843.4M313.5 850V843.4M314.5 850V843.4M315.5 850V843.4"/>
<path class="m" d="M241.5 808.5H320.5M241.5 804v9M320.5 804v9"/>
<text class="m1" x="301.8" y="807.8">M1</text>
<text class="num" x="270.2" y="716.5" textLength="20.4" lengthAdjust="spacingAndGlyphs">29</text>
</g>
<g id="p10">
<path class="ax" d="M344.5 705.5H347.5V853.5H507.5M344.5 853.5h3M345.5 838.5h2M345.5 823.5h2M345.5 809.5h2M345.5 794.5h2M344.5 779.5h3M345.5 764.5h2M345.5 749.5h2M345.5 735.5h2M345.5 720.5h2M344.5 705.5h3M347.5 853.5v2.5M359.5 853.5v1.5M366.5 853.5v1.5M371.5 853.5v1.5M375.5 853.5v1.5M378.5 853.5v1.5M381.5 853.5v1.5M383.5 853.5v1.5M385.5 853.5v1.5M387.5 853.5v2.5M399.5 853.5v1.5M406.5 853.5v1.5M411.5 853.5v1.5M415.5 853.5v1.5M418.5 853.5v1.5M421.5 853.5v1.5M423.5 853.5v1.5M425.5 853.5v1.5M427.5 853.5v2.5M439.5 853.5v1.5M446.5 853.5v1.5M451.5 853.5v1.5M455.5 853.5v1.5M458.5 853.5v1.5M461.5 853.5v1.5M463.5 853.5v1.5M465.5 853.5v1.5M467.5 853.5v2.5M479.5 853.5v1.5M486.5 853.5v1.5M491.5 853.5v1.5M495.5 853.5v1.5M498.5 853.5v1.5M501.5 853.5v1.5M503.5 853.5v1.5M505.5 853.5v1.5M507.5 853.5v2.5"/>
<text class="tk" x="340.5" y="864.3" textLength="10.4" lengthAdjust="spacingAndGlyphs">10</text><text class="sup" x="351.1" y="861.1">0</text>
<text class="tk" x="380.5" y="864.3" textLength="10.4" lengthAdjust="spacingAndGlyphs">10</text><text class="sup" x="391.1" y="861.1">1</text>
<text class="tk" x="420.5" y="864.3" textLength="10.4" lengthAdjust="spacingAndGlyphs">10</text><text class="sup" x="431.1" y="861.1">2</text>
<text class="tk" x="460.5" y="864.3" textLength="10.4" lengthAdjust="spacingAndGlyphs">10</text><text class="sup" x="471.1" y="861.1">3</text>
<text class="tk" x="500.5" y="864.3" textLength="10.4" lengthAdjust="spacingAndGlyphs">10</text><text class="sup" x="511.1" y="861.1">4</text>
<text class="tk" transform="translate(342.3 856.7) rotate(-90)" textLength="6" lengthAdjust="spacingAndGlyphs">0</text>
<text class="tk" transform="translate(342.3 710.1) rotate(-90)" textLength="10" lengthAdjust="spacingAndGlyphs">20</text>
<path class="h" d="M401.5 852.5V845.5H402.5H402.5H403.5H404.5H404.5H405.5H406.5H406.5H407.5H408.5H408.5H409.5H410.5V837.5H410.5H411.5V830.5H412.5H412.5H413.5V823.5H414.5V830.5H414.5H415.5V823.5H415.5V815.5H416.5V823.5H417.5H417.5V808.5H418.5H419.5V815.5H419.5H420.5H421.5V808.5H421.5V801.5H422.5V786.5H423.5V801.5H423.5V793.5H424.5H425.5V779.5H425.5V786.5H426.5H427.5H427.5V779.5H428.5V786.5H428.5H429.5V793.5H430.5V786.5H430.5H431.5V793.5H432.5H432.5V808.5H433.5V793.5H434.5V808.5H434.5V801.5H435.5V793.5H436.5V808.5H436.5V815.5H437.5H438.5V801.5H438.5V808.5H439.5V815.5H440.5V808.5H440.5V823.5H441.5V830.5H441.5V823.5H442.5V830.5H443.5H443.5H444.5H445.5V808.5H445.5V823.5H446.5V815.5H447.5H447.5H448.5H449.5H449.5V808.5H450.5V801.5H451.5V793.5H451.5H452.5V786.5H453.5V779.5H453.5V771.5H454.5V764.5H454.5H455.5V757.5H456.5V749.5H456.5V742.5H457.5V727.5H458.5H458.5H459.5V720.5H460.5V712.5H460.5H461.5H462.5H462.5V720.5H463.5V727.5H464.5H464.5V742.5H465.5H466.5V757.5H466.5V764.5H467.5V771.5H467.5V779.5H468.5H469.5V786.5H469.5V793.5H470.5H471.5V801.5H471.5H472.5V808.5H473.5H473.5H474.5H475.5H475.5H476.5H477.5H477.5V815.5H478.5H479.5V801.5H479.5H480.5H480.5V793.5H481.5V786.5H482.5H482.5V801.5H483.5H484.5H484.5H485.5V793.5H486.5V808.5H486.5H487.5H488.5H488.5V830.5H489.5H490.5H490.5H491.5V837.5H492.5H492.5H493.5H493.5V845.5H494.5H495.5H495.5H496.5H497.5H497.5H498.5V837.5H499.5V845.5H499.5V852.5H500.5V852.5"/>
<path class="h" d="M402.5 853V845.3M405.5 853V845.3M420.5 824V800.7M422.5 810V787M439.5 816V801.7M445.5 830V807.5"/>
<path class="m" d="M347.5 810.5H440.5"/>
<text class="m1" x="424" y="810.3">M1</text>
<text class="num" x="384" y="720.4" textLength="20.4" lengthAdjust="spacingAndGlyphs">33</text>
</g>

<text class="row" x="5.5" y="97.5" textLength="83.5">Control</text>
<text class="row" x="4.5" y="253" textLength="75">mAb90</text>
<text class="row" x="9.5" y="431.3" textLength="82.5">YTH862</text>
<text class="row" x="16 37 53.5 64 78" y="611.3">W6/32</text>
<text class="row" x="17.5" y="789" textLength="90.5">TP25.99</text>
<text class="ylab" transform="translate(132.3 523) rotate(-90)" textLength="63">relative</text>
<text class="ylab" transform="translate(132.3 445) rotate(-90)" textLength="28.5">cell</text>
<text class="ylab" transform="translate(132.3 400.6) rotate(-90)" textLength="60">number</text>
<text class="xlab1" x="162.8" y="892.6" textLength="65.8">Annexin</text>
<text class="xlab1" x="241.3" y="892.6" textLength="80.4">V-binding</text>
<text class="xlab2" x="388.5" y="896.3" textLength="89.5">DiOC6(3)</text>

</svg>
</body>
</html>
